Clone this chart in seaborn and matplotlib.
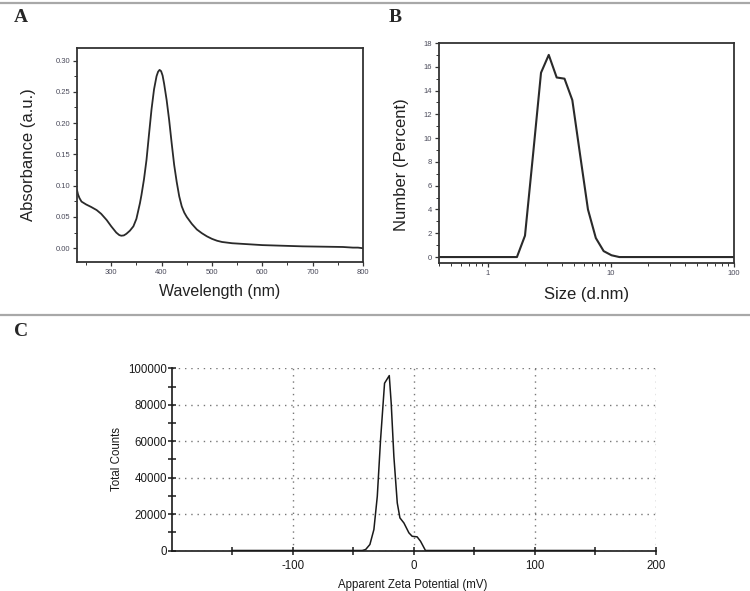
import numpy as np
import pandas as pd
import matplotlib
matplotlib.use('Agg')
import matplotlib.pyplot as plt
from matplotlib.lines import Line2D
from matplotlib.ticker import MultipleLocator, FixedLocator, FormatStrFormatter, LogLocator, NullFormatter
import seaborn as sns

# A: UV-vis spectrum
wavelength = [232, 234, 237, 241, 250, 260, 271, 280, 291, 300, 310, 316, 320, 325, 330,
              337, 344, 350, 357, 360, 365, 370, 375, 380, 385, 390, 393, 396, 399, 402,
              405, 410, 415, 420, 425, 430, 435, 440, 445, 450, 460, 470, 480, 490, 500,
              510, 520, 540, 560, 580, 600, 640, 680, 720, 760, 780, 790, 800]
absorbance = [0.093, 0.086, 0.080, 0.0745, 0.070, 0.066, 0.061, 0.055, 0.045, 0.035, 0.025,
              0.021, 0.020, 0.0205, 0.023, 0.028, 0.035, 0.047, 0.072, 0.085, 0.110, 0.141,
              0.182, 0.222, 0.254, 0.275, 0.282, 0.285, 0.283, 0.276, 0.263, 0.237, 0.205,
              0.168, 0.133, 0.106, 0.083, 0.067, 0.057, 0.050, 0.039, 0.030, 0.024, 0.019,
              0.015, 0.012, 0.010, 0.008, 0.007, 0.006, 0.005, 0.004, 0.003, 0.0025, 0.002,
              0.001, 0.001, 0.000]

# B: DLS number distribution
size_nm = [0.4, 1.72, 2.0, 2.33, 2.7, 3.12, 3.62, 4.19, 4.85, 5.61, 6.5, 7.53, 8.72, 10.1, 11.7, 100]
number_pct = [0, 0, 1.8, 8.7, 15.5, 17.0, 15.1, 15.0, 13.2, 8.6, 4.0, 1.6, 0.5, 0.15, 0, 0]

# C: zeta potential
zeta_mv = [-150, -42.6, -39.8, -36.3, -33.0, -30.2, -27.5, -24.2, -20.3, -18.7, -16.5,
           -13.7, -11.5, -8.2, -4.1, -1.4, 2.7, 5.5, 9.6, 150]
total_counts = [0, 0, 550, 3300, 11500, 29700, 60800, 91800, 96000, 80800, 51600,
                26100, 17900, 15100, 9700, 7800, 7500, 5100, 0, 0]

sns.set_style('ticks')
plt.rcParams['font.family'] = ['Liberation Sans', 'DejaVu Sans']
plt.rcParams['axes.unicode_minus'] = False

W, H = 750, 591
fig = plt.figure(figsize=(7.5, 5.91), dpi=100)

def box(l, t, r, b):
    return [l / W, (H - b) / H, (r - l) / W, (b - t) / H]

spine_col = '#333333'
tick_col = '#4a4a5a'

# ---- panel A ----
ax_a = fig.add_axes(box(77, 48, 363, 262))
sns.lineplot(x=wavelength, y=absorbance, ax=ax_a, color='#2a2a2a', linewidth=1.3)
ax_a.set_xlim(232, 800)
ax_a.set_ylim(-0.022, 0.32)
ax_a.xaxis.set_major_locator(MultipleLocator(100))
ax_a.xaxis.set_minor_locator(MultipleLocator(50))
ax_a.yaxis.set_major_locator(MultipleLocator(0.05))
ax_a.yaxis.set_minor_locator(MultipleLocator(0.025))
ax_a.yaxis.set_major_formatter(FormatStrFormatter('%.2f'))
ax_a.set_xlabel('Wavelength (nm)', fontsize=11.5, color='#222222')
ax_a.set_ylabel('Absorbance (a.u.)', fontsize=12, color='#222222')
ax_a.xaxis.set_label_coords(0.5, -0.139)
ax_a.xaxis.label.set_va('center')
ax_a.yaxis.set_label_coords(-0.170, 0.5)
ax_a.yaxis.label.set_va('center')

# ---- panel B ----
ax_b = fig.add_axes(box(439, 43, 734, 263))
ax_b.set_xscale('log')
sns.lineplot(x=size_nm, y=number_pct, ax=ax_b, color='#2a2a2a', linewidth=1.5)
ax_b.set_xlim(0.4, 100)
ax_b.set_ylim(-0.5, 18)
ax_b.xaxis.set_major_locator(FixedLocator([1, 10, 100]))
ax_b.xaxis.set_major_formatter(FormatStrFormatter('%g'))
ax_b.xaxis.set_minor_locator(LogLocator(base=10, subs=np.arange(2, 10)))
ax_b.xaxis.set_minor_formatter(NullFormatter())
ax_b.yaxis.set_major_locator(MultipleLocator(2))
ax_b.yaxis.set_minor_locator(MultipleLocator(1))
ax_b.set_xlabel('Size (d.nm)', fontsize=12, color='#222222')
ax_b.set_ylabel('Number (Percent)', fontsize=12, color='#222222')
ax_b.xaxis.set_label_coords(0.5, -0.144)
ax_b.xaxis.label.set_va('center')
ax_b.yaxis.set_label_coords(-0.128, 0.447)
ax_b.yaxis.label.set_va('center')

for ax in (ax_a, ax_b):
    for s in ax.spines.values():
        s.set_color(spine_col)
        s.set_linewidth(1.3)
    ax.tick_params(which='major', direction='out', length=3, width=0.9, pad=2,
                   labelsize=5.5, labelcolor=tick_col, color=spine_col)
    ax.tick_params(which='minor', direction='out', length=2, width=0.7, color=spine_col)

# ---- panel C ----
ax_c = fig.add_axes(box(171.7, 368.3, 656, 550.5))
sns.lineplot(x=zeta_mv, y=total_counts, ax=ax_c, color='#1a1a1a', linewidth=1.1)
ax_c.set_xlim(-200, 200)
ax_c.set_ylim(0, 100000)
ax_c.xaxis.set_major_locator(FixedLocator([-100, 0, 100, 200]))
ax_c.xaxis.set_minor_locator(FixedLocator([-150, -50, 50, 150]))
ax_c.yaxis.set_major_locator(MultipleLocator(20000))
ax_c.yaxis.set_minor_locator(MultipleLocator(10000))
ax_c.yaxis.set_major_formatter(FormatStrFormatter('%d'))
ax_c.grid(True, which='major', color='#777777', linestyle=(0, (1, 3.5)), linewidth=1.0)
ax_c.set_axisbelow(True)
for side in ('top', 'right'):
    ax_c.spines[side].set_visible(False)
for side in ('left', 'bottom'):
    ax_c.spines[side].set_color('#1a1a1a')
    ax_c.spines[side].set_linewidth(1.2)
ax_c.tick_params(which='both', direction='inout', length=6, width=1.1, color='#1a1a1a',
                 labelsize=8.3, labelcolor='#1a1a1a')
ax_c.tick_params(axis='y', which='both', pad=0.5)
ax_c.tick_params(axis='x', which='both', pad=4)
ax_c.set_xlabel('Apparent Zeta Potential (mV)', fontsize=8.3, color='#1a1a1a')
ax_c.set_ylabel('Total Counts', fontsize=8.3, color='#1a1a1a')
ax_c.xaxis.set_label_coords(0.498, -0.189)
ax_c.xaxis.label.set_va('center')
ax_c.yaxis.set_label_coords(-0.1136, 0.5)
ax_c.yaxis.label.set_va('center')

# separators and panel letters
for y in (2.7, 315):
    fig.add_artist(Line2D([0, 1], [1 - y / H, 1 - y / H], transform=fig.transFigure,
                          color='#a8a8a8', linewidth=1.6))
for letter, x, y in (('A', 20.5, 17), ('B', 395, 17), ('C', 21.5, 331)):
    fig.text(x / W, 1 - y / H, letter, fontsize=14, fontweight='bold',
             family=['Liberation Serif', 'DejaVu Serif'], ha='center', va='center')

fig.savefig('out.png', dpi=100)
